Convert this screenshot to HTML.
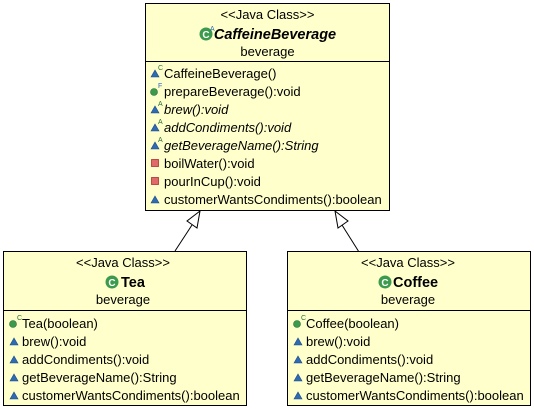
<!DOCTYPE html>
<html><head><meta charset="utf-8"><style>
html,body{margin:0;padding:0;background:#fff}
svg{display:block}
text{font-family:"Liberation Sans",Arial,sans-serif;font-size:13px;fill:#000}
.i{font-style:italic}
</style></head><body>
<svg width="534" height="409" viewBox="0 0 534 409">
<defs>
<g id="tri"><path d="M-4,3 L0,-4 L4,3 Z" fill="#2f6bb5" stroke="#1d4a85" stroke-width="0.6"/></g>
<g id="sq"><rect x="-3.5" y="-3.5" width="7" height="7" fill="#e06a6a" stroke="#b03030" stroke-width="0.8"/></g>
<g id="dot"><circle r="3.5" fill="#3c9a4d" stroke="#2a6d36" stroke-width="0.6"/></g>
<g id="cls"><circle r="6.5" fill="#3c9a4d"/><text x="0" y="3.8" text-anchor="middle" style="font-size:10px;font-weight:bold;fill:#fff">C</text></g>
</defs>
<!-- top box -->
<rect x="145.5" y="3.5" width="244" height="207" fill="#ffffcc" stroke="#000"/>
<line x1="145.5" y1="61.5" x2="389.5" y2="61.5" stroke="#000"/>
<text x="267.5" y="19" text-anchor="middle">&lt;&lt;Java Class&gt;&gt;</text>
<use href="#cls" x="206" y="34"/>
<text x="210" y="31" style="font-size:7px;fill:#2f6bb5">A</text>
<text x="275" y="39" text-anchor="middle" style="font-weight:bold;font-style:italic;font-size:14.5px">CaffeineBeverage</text>
<text x="267.5" y="56" text-anchor="middle">beverage</text>
<g>
<use href="#tri" x="155" y="74"/><text x="158" y="70" style="font-size:7px;fill:#2a6d36">C</text><text x="164" y="78">CaffeineBeverage()</text>
<use href="#dot" x="154" y="92"/><text x="158" y="88" style="font-size:7px;fill:#2f6bb5">F</text><text x="164" y="96">prepareBeverage():void</text>
<use href="#tri" x="155" y="110"/><text x="158" y="106" style="font-size:7px;fill:#2a6d36">A</text><text x="164" y="114" class="i">brew():void</text>
<use href="#tri" x="155" y="128"/><text x="158" y="124" style="font-size:7px;fill:#2a6d36">A</text><text x="164" y="132" class="i">addCondiments():void</text>
<use href="#tri" x="155" y="146"/><text x="158" y="142" style="font-size:7px;fill:#2a6d36">A</text><text x="164" y="150" class="i">getBeverageName():String</text>
<use href="#sq" x="155" y="163"/><text x="164" y="168">boilWater():void</text>
<use href="#sq" x="155" y="181"/><text x="164" y="186">pourInCup():void</text>
<use href="#tri" x="155" y="200"/><text x="164" y="204">customerWantsCondiments():boolean</text>
</g>
<!-- arrows -->
<line x1="175" y1="251" x2="192" y2="225" stroke="#000"/>
<path d="M200,211 L187,221 L197,228 Z" fill="#fff" stroke="#000"/>
<line x1="359" y1="252" x2="342" y2="225" stroke="#000"/>
<path d="M335,211 L348,221 L338,228 Z" fill="#fff" stroke="#000"/>
<!-- Tea -->
<rect x="3.5" y="251.5" width="243" height="154" fill="#ffffcc" stroke="#000"/>
<line x1="3.5" y1="310.5" x2="246.5" y2="310.5" stroke="#000"/>
<text x="123" y="267" text-anchor="middle">&lt;&lt;Java Class&gt;&gt;</text>
<use href="#cls" x="112" y="282"/>
<text x="121" y="287" style="font-weight:bold;font-size:14.5px">Tea</text>
<text x="123" y="304" text-anchor="middle">beverage</text>
<use href="#dot" x="13" y="324"/><text x="17" y="320" style="font-size:7px;fill:#2a6d36">C</text><text x="22" y="328">Tea(boolean)</text>
<use href="#tri" x="14" y="342"/><text x="22" y="346">brew():void</text>
<use href="#tri" x="14" y="360"/><text x="22" y="364">addCondiments():void</text>
<use href="#tri" x="14" y="378"/><text x="22" y="382">getBeverageName():String</text>
<use href="#tri" x="14" y="396"/><text x="22" y="400">customerWantsCondiments():boolean</text>
<!-- Coffee -->
<rect x="287.5" y="251.5" width="243" height="154" fill="#ffffcc" stroke="#000"/>
<line x1="287.5" y1="310.5" x2="530.5" y2="310.5" stroke="#000"/>
<text x="408" y="267" text-anchor="middle">&lt;&lt;Java Class&gt;&gt;</text>
<use href="#cls" x="385" y="282"/>
<text x="393" y="287" style="font-weight:bold;font-size:14.5px">Coffee</text>
<text x="408" y="304" text-anchor="middle">beverage</text>
<use href="#dot" x="297" y="324"/><text x="301" y="320" style="font-size:7px;fill:#2a6d36">C</text><text x="306" y="328">Coffee(boolean)</text>
<use href="#tri" x="298" y="342"/><text x="306" y="346">brew():void</text>
<use href="#tri" x="298" y="360"/><text x="306" y="364">addCondiments():void</text>
<use href="#tri" x="298" y="378"/><text x="306" y="382">getBeverageName():String</text>
<use href="#tri" x="298" y="396"/><text x="306" y="400">customerWantsCondiments():boolean</text>
</svg>
</body></html>
